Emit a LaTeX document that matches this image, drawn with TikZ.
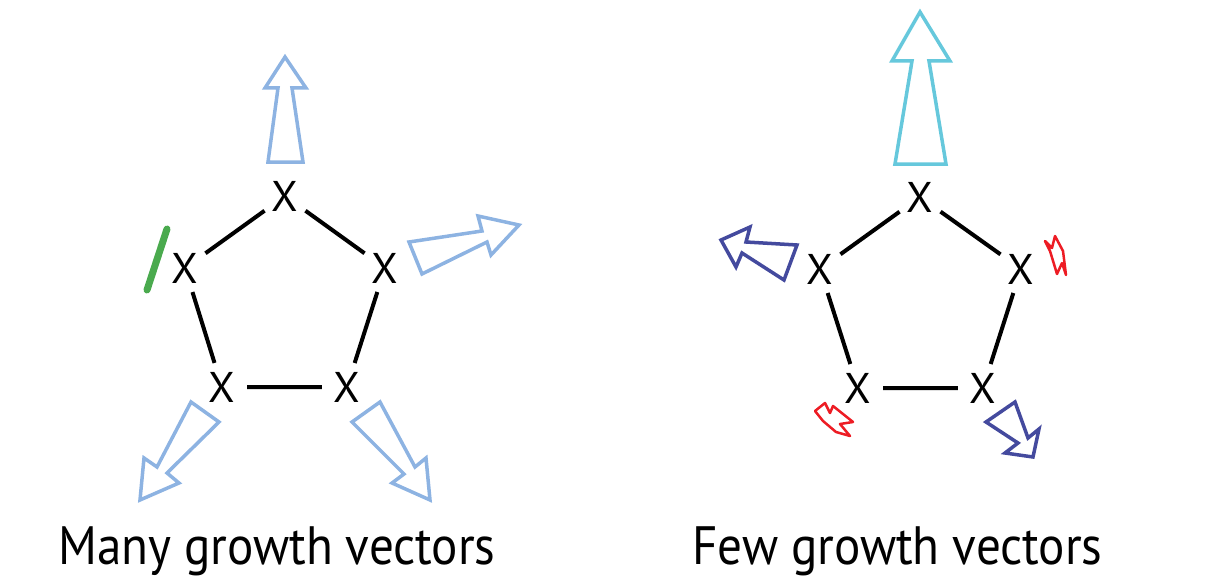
\documentclass[tikz,border=0pt]{standalone}
\usepackage{fontspec}
\newfontfamily\captionfont[FakeStretch=0.91]{PT Sans}
\newfontfamily\xfont{PT Sans}
\definecolor{vecblue}{RGB}{141,179,226}
\definecolor{veccyan}{RGB}{102,200,220}
\definecolor{vecnavy}{RGB}{68,74,158}
\definecolor{boltred}{RGB}{237,28,36}
\definecolor{slashgreen}{RGB}{74,170,78}
\begin{document}
\begin{tikzpicture}[x=1pt,y=-1pt,
  vtx/.style={circle,minimum size=50pt,inner sep=0pt,font=\xfont\fontsize{43}{43}\selectfont},
  bond/.style={line width=4pt,black},
  vec/.style={line width=3.5pt,line join=miter},
  bolt/.style={line width=2.5pt,boltred,line join=round},
  captext/.style={anchor=base west,inner sep=0pt,font=\captionfont\fontsize{54}{60}\selectfont}]
\useasboundingbox (0,0) rectangle (1208,586);
% left pentagon
\node[vtx] (lt) at (285,196) {X};
\node[vtx] (ll) at (185,268) {X};
\node[vtx] (lr) at (385,268) {X};
\node[vtx] (lbl) at (222,387) {X};
\node[vtx] (lbr) at (347,387) {X};
\draw[bond] (lt) -- (lr) -- (lbr) -- (lbl) -- (ll) -- (lt);
% right pentagon
\node[vtx] (rt) at (920,197) {X};
\node[vtx] (rl) at (820,269) {X};
\node[vtx] (rr) at (1021,269) {X};
\node[vtx] (rbl) at (858,388) {X};
\node[vtx] (rbr) at (983,388) {X};
\draw[bond] (rt) -- (rr) -- (rbr) -- (rbl) -- (rl) -- (rt);
% left growth vectors
\draw[vec,vecblue] (285,57) -- (306,88) -- (292,88) -- (303,162) -- (268,162) -- (278,88) -- (265,88) -- cycle;
\draw[vec,vecblue] (409,242) -- (482,231) -- (478,216) -- (519,225) -- (491,255) -- (487,242) -- (422,274) -- cycle;
\draw[vec,vecblue] (191,402) -- (219,422) -- (167,473) -- (179,483) -- (140,500) -- (144,458) -- (157,467) -- cycle;
\draw[vec,vecblue] (352,422) -- (380,402) -- (415,467) -- (426,458) -- (430,500) -- (392,483) -- (404,474) -- cycle;
\draw[line width=7pt,slashgreen,line cap=round] (167,229) -- (147,290);
% right growth vectors
\draw[vec,veccyan] (920,12) -- (950,61) -- (929,61) -- (946,164) -- (895,164) -- (912,61) -- (892,61) -- cycle;
\draw[vec,vecnavy] (721,240) -- (750,227) -- (746,242) -- (797,245) -- (784,280) -- (742,253) -- (736,267) -- cycle;
\draw[vec,vecnavy] (986,422) -- (1015,402) -- (1028,438) -- (1039,429) -- (1033,457) -- (1005,453) -- (1018,443) -- cycle;
\draw[bolt] (1045,241) -- (1052,248) -- (1055,236) -- (1063,251) -- (1066,275) -- (1062,263) -- (1057,274) -- (1050,251) -- cycle;
\draw[bolt] (815,411) -- (825,403) -- (830,413) -- (833,406) -- (853,422) -- (840,424) -- (850,436) -- (836,432) -- (823,421) -- cycle;
% captions
\node[captext] (capl) at (58,564) {Many growth vectors};
\node[captext] (capr) at (692,564) {Few growth vectors};
\end{tikzpicture}
\end{document}
